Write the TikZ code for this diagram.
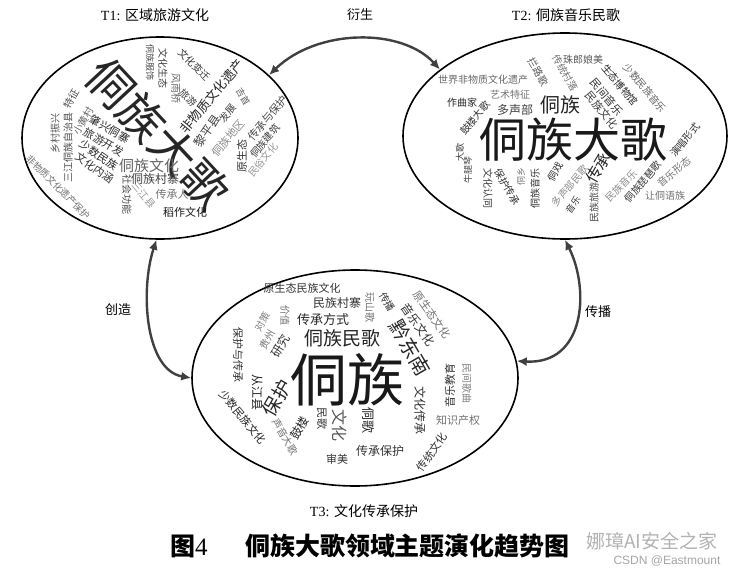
\documentclass[tikz,border=0pt]{standalone}
\usepackage{fontspec}
\setmainfont{Liberation Serif}
\newfontfamily\cjk{Noto Sans CJK SC}
\usetikzlibrary{shapes.geometric,arrows.meta}
\newcommand\wcw[7]{\node[wc,rotate=#4,text=#6,font=\cjk\fontsize{#5}{#5}\selectfont] (#1) at (#2,#3) {#7};}
\begin{document}
\begin{tikzpicture}[x=1pt,y=-1pt,
  wc/.style={inner sep=0pt,outer sep=0pt},
  cloud/.style={ellipse,draw=black,line width=1.6pt,inner sep=0pt},
  link/.style={line width=2.4pt,draw=black!75,{Latex[length=10pt,width=9pt]}-{Latex[length=10pt,width=9pt]}},
  lab/.style={inner sep=0pt,font=\cjk\fontsize{13}{13}\selectfont},
  ttl/.style={inner sep=0pt,font=\fontsize{14}{14}\selectfont}]
\useasboundingbox[fill=white] (0,0) rectangle (740,573);

% ellipses
\node[cloud,minimum width=276pt,minimum height=202pt] (e1) at (160,138) {};
\node[cloud,minimum width=324pt,minimum height=206pt] (e2) at (565,136) {};
\node[cloud,minimum width=326pt,minimum height=216pt] (e3) at (355,378) {};

% titles
\node[ttl] (t1) at (155,15) {T1: {\cjk 区域旅游文化}};
\node[ttl] (t2) at (566,15) {T2: {\cjk 侗族音乐民歌}};
\node[ttl] (t3) at (364,511) {T3: {\cjk 文化传承保护}};

% connectors
\draw[link] (e1.30) .. controls (318,28) and (402,28) .. (e2.152);
\draw[link] (e1.-92) .. controls (140,290) and (145,370) .. (e3.180);
\draw[link] (e2.-90) .. controls (590,290) and (585,365) .. (e3.6);
\node[lab] (l1) at (360,15) {衍生};
\node[lab] (l2) at (118,310) {创造};
\node[lab] (l3) at (598,312) {传播};

% T1 cloud
\wcw{a0}{158}{134}{-47}{46}{black!85}{侗族大歌}
\wcw{a1}{150}{62}{-90}{9}{black!70}{侗族服饰}
\wcw{a2}{163}{68}{-90}{10}{black!75}{文化生态}
\wcw{a3}{176}{88}{-90}{10}{black!60}{风雨桥}
\wcw{a4}{194}{65}{-45}{10}{black!80}{文化变迁}
\wcw{a5}{188}{98}{-45}{10}{black!75}{旅游}
\wcw{a6}{212}{96}{50}{13}{black!85}{非物质文化遗产}
\wcw{a7}{228}{113}{50}{10}{black!75}{发展}
\wcw{a8}{243}{97}{-60}{9}{black!65}{吉首}
\wcw{a9}{71}{99}{60}{10}{black!70}{特征}
\wcw{a10}{83}{121}{60}{10}{black!60}{小黄村}
\wcw{a11}{110}{129}{-30}{11}{black!85}{肇兴侗寨}
\wcw{a12}{104}{142}{-30}{11}{black!80}{旅游开发}
\wcw{a13}{99}{155}{-35}{11}{black!85}{少数民族}
\wcw{a14}{95}{168}{-35}{11}{black!80}{文化内涵}
\wcw{a15}{55}{133}{90}{10}{black!65}{乡村振兴}
\wcw{a16}{68}{147}{90}{10}{black!70}{三江侗族自治县}
\wcw{a17}{58}{187}{-45}{9.5}{black!55}{非物质文化遗产保护}
\wcw{a18}{149}{166}{0}{15}{black!60}{侗族文化}
\wcw{a19}{155}{179}{0}{12}{black!75}{侗族村寨}
\wcw{a20}{127}{194}{-90}{10}{black!70}{社会功能}
\wcw{a21}{144}{195}{-50}{10}{black!40}{三江县}
\wcw{a22}{172}{194}{0}{11}{black!55}{传承人}
\wcw{a23}{185}{212}{0}{11}{black!90}{稻作文化}
\wcw{a24}{207}{131}{55}{12}{black!75}{黎平县}
\wcw{a25}{228}{138}{50}{11}{black!45}{侗族地区}
\wcw{a26}{268}{118}{50}{11}{black!70}{传承与保护}
\wcw{a27}{265}{141}{50}{10}{black!75}{侗族建筑}
\wcw{a28}{242}{156}{90}{11}{black!80}{原生态}
\wcw{a29}{263}{160}{50}{10}{black!40}{民俗文化}

% T2 cloud
\wcw{b0}{573}{140}{0}{47}{black!90}{侗族大歌}
\wcw{b1}{560}{105}{0}{20}{black!85}{侗族}
\wcw{b2}{483}{80}{0}{10}{black!60}{世界非物质文化遗产}
\wcw{b3}{510}{95}{0}{10}{black!55}{艺术特征}
\wcw{b4}{462}{103}{0}{10}{black!85}{作曲家}
\wcw{b5}{515}{110}{0}{12}{black!75}{多声部}
\wcw{b6}{475}{118}{50}{10}{black!80}{鼓楼大歌}
\wcw{b7}{538}{72}{-60}{10}{black!65}{拦路歌}
\wcw{b8}{565}{73}{-60}{10}{black!55}{传统村落}
\wcw{b9}{583}{60}{0}{10}{black!65}{珠郎娘美}
\wcw{b10}{645}{88}{-50}{10}{black!60}{少数民族音乐}
\wcw{b11}{620}{85}{-50}{10}{black!85}{生态博物馆}
\wcw{b12}{607}{97}{-50}{11}{black!80}{民间音乐}
\wcw{b13}{602}{110}{-50}{11}{black!75}{民族文化}
\wcw{b14}{685}{140}{50}{10}{black!80}{演唱形式}
\wcw{b15}{643}{182}{50}{10}{black!80}{侗族琵琶歌}
\wcw{b16}{674}{172}{40}{10}{black!55}{音乐形态}
\wcw{b17}{665}{196}{0}{10}{black!55}{让侗语族}
\wcw{b18}{598}{168}{60}{16}{black!85}{传承}
\wcw{b19}{621}{186}{45}{10}{black!45}{民族音乐}
\wcw{b20}{570}{186}{50}{10}{black!45}{多声部民歌}
\wcw{b21}{594}{202}{90}{10}{black!70}{民族旅游}
\wcw{b22}{573}{205}{55}{9}{black!80}{音乐}
\wcw{b23}{555}{172}{60}{10}{black!80}{侗戏}
\wcw{b24}{535}{188}{90}{10}{black!80}{侗族音乐}
\wcw{b25}{521}{176}{90}{9}{black!50}{侗乡}
\wcw{b26}{507}{187}{-60}{10}{black!80}{保护传承}
\wcw{b27}{488}{188}{-90}{10}{black!75}{文化认同}
\wcw{b28}{468}{170}{90}{9}{black!70}{牛腿琴}
\wcw{b29}{460}{152}{90}{9}{black!75}{大歌}

% T3 cloud
\wcw{c0}{347}{380}{0}{57}{black!90}{侗族}
\wcw{c1}{342}{338}{0}{19}{black!85}{侗族民歌}
\wcw{c2}{323}{320}{0}{13}{black!85}{传承方式}
\wcw{c3}{337}{303}{0}{12}{black!80}{民族村寨}
\wcw{c4}{302}{288}{0}{11}{black!80}{原生态民族文化}
\wcw{c5}{370}{307}{-90}{10}{black!55}{玩山歌}
\wcw{c6}{387}{302}{-60}{10}{black!80}{传播}
\wcw{c7}{432}{315}{-55}{11}{black!55}{原生态文化}
\wcw{c8}{418}{325}{-55}{12}{black!80}{音乐文化}
\wcw{c9}{410}{348}{-60}{20}{black!85}{黔东南}
\wcw{c10}{467}{383}{-90}{10}{black!50}{民间歌曲}
\wcw{c11}{450}{385}{90}{11}{black!80}{音乐教育}
\wcw{c12}{458}{420}{0}{11}{black!55}{知识产权}
\wcw{c13}{420}{410}{-90}{12}{black!80}{文化传承}
\wcw{c14}{432}{452}{55}{11}{black!80}{传统文化}
\wcw{c15}{380}{451}{0}{12}{black!80}{传承保护}
\wcw{c16}{337}{459}{0}{11}{black!80}{审美}
\wcw{c17}{368}{420}{-90}{13}{black!85}{侗歌}
\wcw{c18}{340}{425}{-90}{16}{black!65}{文化}
\wcw{c19}{322}{418}{-90}{11}{black!80}{民歌}
\wcw{c20}{300}{428}{60}{12}{black!85}{鼓楼}
\wcw{c21}{285}{437}{-60}{10}{black!55}{声音大歌}
\wcw{c22}{243}{417}{-50}{11}{black!85}{少数民族文化}
\wcw{c23}{277}{398}{60}{19}{black!85}{保护}
\wcw{c24}{257}{392}{-90}{12}{black!85}{从江县}
\wcw{c25}{238}{355}{-90}{11}{black!80}{保护与传承}
\wcw{c26}{262}{322}{60}{10}{black!50}{对策}
\wcw{c27}{285}{315}{-90}{10}{black!55}{价值}
\wcw{c28}{267}{340}{60}{10}{black!55}{贵州}
\wcw{c29}{281}{346}{60}{12}{black!80}{研究}

% caption and watermark
\node[inner sep=0pt,font=\cjk\bfseries\fontsize{25}{25}\selectfont] (cap) at (370,546) {图{\rmfamily\mdseries 4}\hspace{1.5em}侗族大歌领域主题演化趋势图};
\node[inner sep=0pt,text=black!30,font=\cjk\fontsize{19}{19}\selectfont] (wm1) at (652,541) {娜璋AI安全之家};
\node[inner sep=0pt,text=black!35,font=\fontspec{Liberation Sans}\fontsize{12}{12}\selectfont] (wm2) at (667,561) {CSDN @Eastmount};
\end{tikzpicture}
\end{document}
